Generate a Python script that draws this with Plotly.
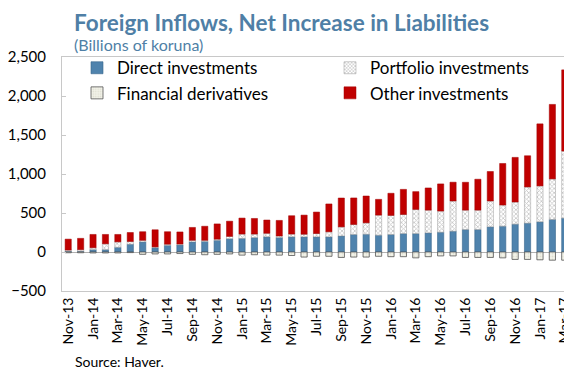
import plotly.graph_objects as go

months = ["Nov-13", "Dec-13", "Jan-14", "Feb-14", "Mar-14", "Apr-14", "May-14", "Jun-14", "Jul-14", "Aug-14",
          "Sep-14", "Oct-14", "Nov-14", "Dec-14", "Jan-15", "Feb-15", "Mar-15", "Apr-15", "May-15", "Jun-15",
          "Jul-15", "Aug-15", "Sep-15", "Oct-15", "Nov-15", "Dec-15", "Jan-16", "Feb-16", "Mar-16", "Apr-16",
          "May-16", "Jun-16", "Jul-16", "Aug-16", "Sep-16", "Oct-16", "Nov-16", "Dec-16", "Jan-17", "Feb-17",
          "Mar-17"]

direct = [10, 10, 30, 30, 60, 100, 130, 55, 85, 90, 130, 135, 150, 170, 175, 185, 195, 185, 195, 194,
          194, 194, 206, 224, 228, 215, 224, 236, 236, 245, 254, 267, 288, 288, 323, 331, 357, 370, 387, 417, 434]
portfolio = [15, 20, 25, 75, 70, 35, 20, 10, 15, 12, 20, 15, 15, 30, 55, 45, 45, 20, 35, 34,
             43, 65, 116, 129, 146, 258, 245, 245, 310, 292, 271, 387, 249, 249, 331, 271, 284, 464, 460, 520, 860]
derivatives = [-10, -10, -12, -12, -12, -8, -30, -25, -25, -20, -30, -35, -30, -25, -40, -35, -40, -40, -45, -65,
               -55, -55, -70, -65, -65, -55, -60, -60, -75, -60, -50, -50, -70, -70, -70, -75, -95, -95, -100, -105, -105]
other = [140, 145, 170, 120, 95, 115, 110, 220, 160, 155, 165, 180, 195, 195, 205, 200, 170, 200, 235, 245,
         275, 357, 370, 340, 344, 202, 284, 322, 228, 284, 348, 241, 357, 396, 378, 533, 572, 400, 796, 955, 1041]

tick_labels = months[::2]
y_ticks = [-500, 0, 500, 1000, 1500, 2000, 2500]

FONT = "Lato"
TITLE_COLOR = "#4f7fa6"

fig = go.Figure()
fig.add_trace(go.Bar(x=months, y=direct, name="Direct investments",
                     marker=dict(color="#4f83ad", line=dict(color="#36658c", width=0.6))))
fig.add_trace(go.Bar(x=months, y=portfolio, name="Portfolio investments",
                     marker=dict(color="white",
                                 pattern=dict(shape="x", fgcolor="#8a8a8a", bgcolor="#ffffff", size=3, solidity=0.45),
                                 line=dict(color="#9a9a9a", width=0.5))))
fig.add_trace(go.Bar(x=months, y=derivatives, name="Financial derivatives",
                     marker=dict(color="#f3f3ea",
                                 pattern=dict(shape=".", fgcolor="#c8c8b8", bgcolor="#f3f3e8", size=3, solidity=0.3),
                                 line=dict(color="#555555", width=0.8))))
fig.add_trace(go.Bar(x=months, y=other, name="Other investments",
                     marker=dict(color="#c00000", line=dict(color="#a00000", width=0.5))))

# page body has an 8px default margin: figure is 564x362 so it fills the 572x370 window
fig.update_layout(
    width=564, height=362,
    barmode="relative", bargap=0.5,
    paper_bgcolor="white", plot_bgcolor="white",
    margin=dict(l=54, r=1, t=49, b=79, autoexpand=False),
    font=dict(family=FONT, size=14, color="#000000"),
    showlegend=True,
    legend=dict(orientation="h", x=15 / 509, y=1.029, xanchor="left", yanchor="top",
                entrywidth=208, entrywidthmode="pixels",
                font=dict(family=FONT, size=17, color="#000000"),
                bgcolor="rgba(0,0,0,0)", traceorder="normal", itemwidth=30),
    xaxis=dict(type="category", categoryorder="array", categoryarray=months,
               tickmode="array", tickvals=tick_labels, ticktext=tick_labels,
               tickangle=-90, tickfont=dict(family=FONT, size=14),
               showgrid=False, showline=True, linecolor="#c8c8c8", mirror=True,
               ticks="", range=[-0.5, 40.5], automargin=False),
    yaxis=dict(range=[-500, 2500], tickmode="array", tickvals=y_ticks, tickformat=",",
               tickfont=dict(family=FONT, size=15), automargin=False,
               showgrid=False, zeroline=True, zerolinecolor="#b0b0b0", zerolinewidth=1,
               showline=True, linecolor="#c8c8c8", mirror=True,
               ticks="inside", ticklen=4, tickcolor="#c8c8c8", ticklabelstandoff=12),
    annotations=[
        dict(text="<b>Foreign Inflows, Net Increase in Liabilities</b>", xref="paper", yref="paper",
             x=11 / 509, y=1 + 49 / 234, xanchor="left", yanchor="top", showarrow=False, borderpad=0,
             font=dict(family=FONT, size=22.5, color=TITLE_COLOR)),
        dict(text="(Billions of koruna)", xref="paper", yref="paper",
             x=11 / 509, y=1 + 12 / 234, xanchor="left", yanchor="middle", showarrow=False, borderpad=0,
             font=dict(family=FONT, size=16, color=TITLE_COLOR)),
        dict(text="Source: Haver.", xref="paper", yref="paper",
             x=11 / 509, y=-0.3, xanchor="left", yanchor="middle", showarrow=False,
             font=dict(family=FONT, size=14, color="#000000")),
    ],
)

fig.write_html("out.html")
